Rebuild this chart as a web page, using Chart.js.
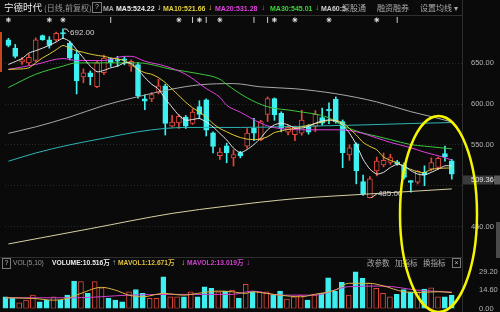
<!DOCTYPE html>
<html>
<head>
<meta charset="utf-8">
<script src="https://cdn.jsdelivr.net/npm/chart.js@4.4.0/dist/chart.umd.min.js"></script>
<style>
  body { margin: 0; background: #0a0a0a; }
  #wrap { position: relative; width: 500px; height: 312px; background: #0a0a0a; overflow: hidden;
          font-family: "Liberation Sans", "Noto Sans CJK SC", sans-serif; }
  canvas { position: absolute; left: 0; }
  .t { position: absolute; white-space: nowrap; line-height: 1; z-index: 2; }
  .b { font-size: 7px; font-weight: bold; top: 4.5px; }
  .vb { font-size: 6.7px; font-weight: bold; top: 259.5px; }
  .cn { font-family: "Noto Sans CJK SC", sans-serif; }
  .box { position: absolute; border: 1px solid #7a7a7a; color: #bbb; font-size: 7px; line-height: 8px;
         text-align: center; z-index: 2; }
  .ln { position: absolute; background: #2e2e2e; z-index: 1; }
</style>
</head>
<body>
<div id="wrap">
  <canvas id="price" width="500" height="258" style="top:0"></canvas>
  <canvas id="vol" width="500" height="55" style="top:257px"></canvas>

  <!-- frame lines -->
  <div class="ln" style="left:0;top:15px;width:462px;height:1px"></div>
  <div class="ln" style="left:0;top:257px;width:462px;height:1px"></div>
  <div class="ln" style="left:462px;top:0;width:1px;height:312px"></div>
  <div class="ln" style="left:0;top:32px;width:2px;height:40px;background:#c8461e"></div>
  <div class="ln" style="left:496px;top:222px;width:4px;height:36px;background:#4a4a4a"></div>

  <!-- price header -->
  <div class="t cn" style="left:4px;top:2.5px;font-size:9.5px;color:#ececec">宁德时代</div>
  <div class="t cn" style="left:44px;top:3.5px;font-size:8px;color:#9a9a9a">(日线,前复权)</div>
  <div class="box" style="left:92px;top:2px;width:8px;height:9px">?</div>
  <div class="t b" style="left:103px;color:#aaa">MA</div>
  <div class="t b" style="left:116px;color:#eeeeee">MA5:524.22</div>
  <div class="t b" style="left:157px;color:#eeeeee;font-size:8px;top:3.5px">↓</div>
  <div class="t b" style="left:163px;color:#e6d23a">MA10:521.66</div>
  <div class="t b" style="left:208px;color:#e6d23a;font-size:8px;top:3.5px">↓</div>
  <div class="t b" style="left:215px;color:#e040e0">MA20:531.28</div>
  <div class="t b" style="left:261px;color:#e040e0;font-size:8px;top:3.5px">↓</div>
  <div class="t b" style="left:270px;color:#3cd23c">MA30:545.01</div>
  <div class="t b" style="left:315px;color:#3cd23c;font-size:8px;top:3.5px">↓</div>
  <div class="t b" style="left:321px;color:#cfcfcf">MA60:5</div>
  <div class="t cn" style="left:342px;top:3.5px;font-size:8px;color:#aaa">深股通</div>
  <div class="t cn" style="left:377px;top:3.5px;font-size:8px;color:#aaa">融资融券</div>
  <div class="t cn" style="left:420px;top:3.5px;font-size:8px;color:#aaa">设置均线 ▾</div>

  <!-- volume header -->
  <div class="box" style="left:2px;top:258px;width:7px;height:9px">?</div>
  <div class="t" style="left:13px;top:259.5px;font-size:6.7px;color:#999">VOL(5,10)</div>
  <div class="t vb" style="left:52px;color:#eeeeee">VOLUME:10.516万</div>
  <div class="t vb" style="left:112px;color:#a8b0d0;font-size:8px;top:258.5px">↑</div>
  <div class="t vb" style="left:118px;color:#e0c040">MAVOL1:12.671万</div>
  <div class="t vb" style="left:181px;color:#e0c040;font-size:8px;top:258.5px">↓</div>
  <div class="t vb" style="left:187px;color:#d040d0">MAVOL2:13.019万</div>
  <div class="t vb" style="left:246px;color:#d040d0;font-size:8px;top:258.5px">↓</div>
  <div class="t cn" style="left:367px;top:259px;font-size:7.5px;color:#aaa">改参数</div>
  <div class="t cn" style="left:395px;top:259px;font-size:7.5px;color:#aaa">加指标</div>
  <div class="t cn" style="left:423px;top:259px;font-size:7.5px;color:#aaa">换指标</div>
  <div class="box" style="left:452px;top:258px;width:7px;height:8px">×</div>

  <!-- hand drawn mark -->
  <svg width="500" height="312" style="position:absolute;left:0;top:0;z-index:3">
    <ellipse cx="438.5" cy="214" rx="38.5" ry="98" fill="none" stroke="#f5f500" stroke-width="2.5"/>
  </svg>
</div>

<script>
// daily candles (price, 前复权)
const opens  = [678.6, 668.4, 651.6, 650.4, 653.3, 683.7, 678.6, 678.6, 687.4, 674.5,
                661.2, 633.1, 638.3, 621.1, 638.3, 655.7, 654.5, 655.2, 646.4, 648.4,
                606.2, 606.2, 614.2, 622.3, 572.9, 576.9, 584.1, 576.1, 597.0, 605.0,
                564.8, 536.8, 548.8, 533.9, 540.4, 548.4, 570.5, 556.4, 587.3, 606.6,
                588.5, 565.6, 562.4, 564.4, 572.5, 572.5, 583.4, 593.5, 605.8, 578.5,
                537.6, 551.2, 505.0, 485.3, 518.0, 525.5, 528.3, 529.1, 525.5, 506.2,
                504.2, 516.3, 520.2, 522.3, 539.2, 530.3];
const highs  = [680.5, 673.0, 657.0, 661.0, 681.0, 684.5, 682.5, 688.0, 692.0, 677.0,
                665.7, 643.0, 640.4, 652.8, 660.0, 656.4, 658.4, 658.0, 654.0, 650.8,
                611.4, 614.0, 630.4, 624.3, 586.0, 587.0, 586.0, 594.0, 604.0, 606.3,
                566.0, 546.0, 552.0, 544.0, 542.0, 570.0, 582.5, 580.0, 608.7, 607.5,
                590.5, 574.0, 573.0, 592.5, 575.0, 592.0, 595.0, 601.5, 608.7, 580.5,
                550.0, 552.4, 513.0, 511.0, 535.0, 540.0, 538.5, 531.0, 528.0, 506.2,
                518.5, 524.3, 534.0, 535.0, 548.4, 532.3];
const lows   = [670.0, 656.4, 648.4, 648.0, 652.0, 678.0, 668.4, 677.0, 681.0, 654.0,
                612.3, 626.0, 623.5, 619.9, 636.0, 646.0, 646.0, 648.0, 640.0, 607.0,
                593.0, 603.0, 612.3, 562.0, 572.0, 570.0, 570.0, 575.0, 582.0, 560.8,
                540.0, 532.0, 528.0, 524.0, 534.0, 546.0, 555.0, 555.0, 578.5, 580.0,
                566.0, 562.0, 555.0, 561.7, 563.0, 566.0, 574.0, 576.0, 576.5, 522.0,
                531.0, 502.2, 488.0, 485.0, 512.0, 523.0, 526.0, 525.0, 508.0, 492.0,
                502.0, 500.0, 518.0, 520.0, 530.0, 508.0];
const closes = [671.7, 658.4, 654.5, 657.2, 678.6, 678.6, 671.7, 686.5, 685.8, 656.4,
                628.3, 638.3, 633.1, 650.4, 656.4, 650.4, 652.4, 653.3, 652.4, 610.2,
                603.4, 611.4, 622.3, 576.1, 578.0, 585.0, 572.9, 590.1, 587.3, 568.0,
                547.9, 541.0, 540.0, 538.0, 536.4, 564.4, 564.4, 578.5, 606.6, 586.5,
                570.5, 571.3, 571.3, 580.4, 565.6, 587.3, 576.5, 591.4, 578.5, 540.3,
                546.4, 518.3, 490.1, 508.2, 530.0, 531.0, 534.3, 527.0, 510.2, 503.8,
                517.4, 513.5, 528.3, 533.5, 535.1, 514.2];

// volume, 万手
const volumes = [9.3, 8.0, 4.5, 6.6, 10.6, 5.3, 6.6, 9.3, 6.6, 10.6,
                 21.8, 21.3, 12.0, 21.3, 16.5, 8.0, 6.6, 5.3, 13.3, 15.1,
                 12.0, 8.0, 8.0, 25.2, 9.3, 9.3, 9.3, 13.3, 9.3, 17.3,
                 16.0, 13.3, 13.8, 14.6, 8.0, 19.2, 13.3, 13.3, 13.3, 10.6,
                 13.8, 7.4, 9.3, 10.6, 6.6, 10.6, 12.0, 24.4, 13.8, 20.7,
                 10.6, 29.2, 23.9, 19.9, 16.0, 12.0, 9.3, 11.2, 15.1, 13.3,
                 13.3, 15.4, 16.5, 9.3, 9.3, 10.516];

// moving averages
const ma5  = [648.4, 652.0, 655.7, 662.4, 665.3, 668.4, 672.0, 676.0, 680.5, 676.5,
              666.5, 656.4, 646.4, 639.5, 641.2, 644.3, 646.4, 650.4, 650.0, 642.4,
              632.3, 624.3, 618.3, 606.3, 596.1, 586.0, 580.1, 581.0, 582.2, 578.0,
              572.0, 564.0, 556.0, 546.0, 540.3, 544.3, 550.4, 558.4, 568.4, 574.5,
              576.5, 574.5, 570.5, 570.5, 572.5, 576.5, 579.3, 580.5, 579.3, 574.5,
              564.4, 550.4, 532.3, 520.2, 514.2, 516.3, 522.3, 526.2, 524.3, 518.3,
              514.2, 513.0, 516.3, 520.2, 524.3, 524.22];
const ma10 = [642.4, 642.7, 643.0, 644.3, 650.4, 656.4, 661.2, 666.5, 671.7, 668.4,
              665.3, 663.3, 661.2, 659.6, 658.4, 656.4, 655.2, 653.3, 648.4, 642.4,
              638.3, 636.4, 632.3, 626.3, 618.3, 610.2, 602.2, 595.4, 590.1, 584.1,
              576.1, 570.0, 566.0, 562.0, 559.0, 557.0, 556.5, 557.0, 560.0, 565.0,
              567.0, 569.0, 570.0, 572.0, 574.0, 576.0, 578.0, 580.0, 580.0, 577.0,
              570.0, 562.0, 553.0, 548.0, 544.0, 535.0, 531.0, 528.0, 523.0, 520.0,
              517.0, 516.0, 520.0, 521.0, 521.5, 521.66];
// smoother lines: [day index, value]
const ma20Pts = [[0, 642.4], [4, 648.4], [8, 655.7], [10, 653.3], [14, 653.3], [17, 658.4], [18, 658.4],
                 [20, 652.4], [23, 646.4], [26, 636.4], [29, 619.0], [31, 608.2], [32, 598.5], [34, 590.0],
                 [37, 576.5], [39, 571.0], [44, 568.4], [48, 568.4], [51, 566.0], [54, 558.4], [56, 553.0],
                 [59, 546.4], [61, 541.0], [64, 534.3], [65, 531.28]];
const ma30Pts = [[0, 620.2], [4, 636.4], [8, 646.4], [10, 650.4], [14, 650.4], [19, 650.4], [24, 642.4],
                 [28, 637.0], [31, 630.4], [32, 624.0], [35, 607.5], [38, 596.6], [42, 591.5], [47, 583.0],
                 [49, 573.5], [52, 564.4], [54, 560.5], [56, 556.4], [59, 550.3], [61, 548.4], [65, 545.01]];
const ma60Pts = [[0, 564.1], [4, 572.0], [9, 584.1], [14, 598.2], [19, 609.0], [24, 618.3], [28, 623.5],
                 [33, 625.0], [37, 621.0], [42, 618.7], [48, 612.6], [54, 602.6], [59, 590.6], [62, 584.6],
                 [65, 578.0]];
const ma120Pts = [[0, 529.9], [4, 540.0], [9, 550.0], [14, 558.1], [19, 566.0], [23, 570.1], [26, 571.3],
                  [34, 571.3], [42, 572.5], [52, 574.4], [59, 576.1], [65, 577.3]];
const ma250Pts = [[0, 428.6], [12, 447.3], [24, 466.0], [32, 474.9], [42, 484.0], [52, 489.4], [65, 496.0]];
const mavol1Pts = [[0, 8.5], [4, 8.0], [7, 6.6], [9, 8.0], [11, 12.0], [14, 16.8], [16, 14.6], [18, 10.6],
                   [20, 9.3], [23, 12.0], [26, 10.6], [28, 12.0], [31, 13.8], [33, 13.3], [35, 12.0],
                   [36, 13.3], [38, 12.0], [40, 10.6], [43, 9.3], [45, 11.2], [48, 14.6], [50, 20.0],
                   [53, 20.0], [55, 18.0], [58, 13.3], [60, 12.7], [63, 13.3], [65, 12.671]];
const mavol2Pts = [[0, 8.5], [10, 8.5], [18, 10.6], [24, 11.2], [33, 11.2], [36, 13.8], [40, 10.6],
                   [45, 10.6], [50, 17.3], [55, 17.8], [60, 14.6], [65, 13.019]];

// event marks on the top row
const starMarks = [0, 6, 8, 25, 28, 31, 39, 42, 47, 54];
const barMarks  = [15, 27, 29, 36, 38, 57];

const priceTicks = [450, 500, 550, 600, 650];
const volTicks   = [0, 14.6, 29.2];
const lastPrice  = 509.36;

const N = closes.length;
const days = closes.map((_, i) => String(i + 1));
days.push('');   // one empty slot on the right

const RED = '#e2483a', CYAN = '#3ef0f0', BG = '#0a0a0a';
const up = closes.map((c, i) => c >= opens[i]);

function fromPts(pts) {
    const arr = new Array(N).fill(null);
    pts.forEach(([i, v]) => { arr[i] = v; });
    return arr;
}

function maLine(data, color, smooth) {
    return {
        type: 'line', data: data, borderColor: color, borderWidth: 1, pointRadius: 0,
        spanGaps: true, order: 0, tension: smooth ? 0.4 : 0.2,
        cubicInterpolationMode: smooth ? 'monotone' : 'default'
    };
}

function marks(idx, level) {
    const arr = new Array(N).fill(null);
    idx.forEach(i => { arr[i] = level; });
    return arr;
}

// right axis: fixed width, no extra label padding above/below the plot
function fitRight(s) {
    s.width = 38;
    s.paddingTop = 0;
    s.paddingBottom = 0;
}

Chart.defaults.font.family = '"Liberation Sans", sans-serif';

// 692.00 / 485.00 labels and last price box
const priceExtras = {
    id: 'priceExtras',
    afterDatasetsDraw(chart) {
        const { ctx, scales: { x, y } } = chart;
        const hi = highs.indexOf(Math.max(...highs));
        const lo = lows.indexOf(Math.min(...lows));
        ctx.save();
        ctx.strokeStyle = '#d6d6d6';
        ctx.fillStyle = '#d6d6d6';
        ctx.lineWidth = 1;
        ctx.font = '8px "Liberation Sans"';
        ctx.textBaseline = 'middle';

        let px = x.getPixelForValue(hi), py = y.getPixelForValue(highs[hi]);
        ctx.beginPath();
        ctx.moveTo(px + 1, py);
        ctx.quadraticCurveTo(px + 4, py - 1, px + 6, py + 3);
        ctx.stroke();
        ctx.fillText(highs[hi].toFixed(2), px + 7, py + 4);

        px = x.getPixelForValue(lo); py = y.getPixelForValue(lows[lo]);
        ctx.beginPath();
        ctx.moveTo(px + 1, py);
        ctx.lineTo(px + 7, py - 4);
        ctx.stroke();
        ctx.fillText(lows[lo].toFixed(2), px + 8, py - 4);
        ctx.restore();
    },
    afterDraw(chart) {
        const { ctx, chartArea, scales: { y } } = chart;
        const py = Math.round(y.getPixelForValue(lastPrice)) + 2;
        ctx.save();
        ctx.fillStyle = '#3a3a3a';
        ctx.fillRect(chartArea.right + 1, py - 4.5, 30, 9);
        ctx.fillStyle = '#5a5a5a';
        ctx.fillRect(chartArea.right + 32, py - 4.5, 6, 9);
        ctx.fillStyle = '#e4e4e4';
        ctx.font = '7.5px "Liberation Sans"';
        ctx.textBaseline = 'middle';
        ctx.fillText(lastPrice.toFixed(2), chartArea.right + 9, py);
        ctx.restore();
    }
};

new Chart(document.getElementById('price'), {
    type: 'bar',
    data: {
        labels: days,
        datasets: [
            {   // marks row
                type: 'line', data: marks(starMarks, 703), showLine: false, pointStyle: 'star',
                pointRadius: 2.5, borderColor: '#e0e0e0', borderWidth: 1, order: 0
            },
            {
                type: 'line', data: marks(barMarks, 703), showLine: false, pointStyle: 'line',
                rotation: 90, pointRadius: 3, borderColor: '#d0d0d0', borderWidth: 1, order: 0
            },
            maLine(ma5, '#e6e6e6', false),
            maLine(ma10, '#e6d23a', false),
            maLine(fromPts(ma20Pts), '#e040e0', true),
            maLine(fromPts(ma30Pts), '#3cc83c', true),
            maLine(fromPts(ma60Pts), '#a8a8a8', true),
            maLine(fromPts(ma120Pts), '#2eb4b4', true),
            maLine(fromPts(ma250Pts), '#d8d0a4', true),
            {   // candle bodies
                data: opens.map((o, i) => [o, closes[i]]),
                backgroundColor: up.map(u => u ? BG : CYAN),
                borderColor: up.map(u => u ? RED : CYAN),
                borderWidth: 1, borderSkipped: false, barThickness: 5,
                minBarLength: 1, grouped: false, order: 1
            },
            {   // wicks
                data: lows.map((l, i) => [l, highs[i]]),
                backgroundColor: up.map(u => u ? RED : CYAN),
                borderWidth: 0, barThickness: 1, grouped: false, order: 2
            }
        ]
    },
    options: {
        responsive: false,
        animation: false,
        events: [],
        layout: { padding: { top: 16, left: 2, right: 0, bottom: 1 } },
        plugins: { legend: { display: false }, tooltip: { enabled: false } },
        scales: {
            x: { display: false, offset: true, grid: { display: false } },
            y: {
                position: 'right', min: 417.5, max: 707.8,
                afterFit: fitRight,
                afterBuildTicks: s => { s.ticks = priceTicks.map(v => ({ value: v })); },
                grid: { color: '#2a2a2a', drawTicks: false },
                border: { display: false, dash: [1, 2] },
                ticks: {
                    color: '#b4b4b4', font: { size: 7.5 }, padding: 9,
                    // the last price box sits over the nearest label
                    callback: v => Math.abs(v - lastPrice) < 12 ? '' : v.toFixed(2)
                }
            }
        }
    },
    plugins: [priceExtras]
});

new Chart(document.getElementById('vol'), {
    type: 'bar',
    data: {
        labels: days,
        datasets: [
            maLine(fromPts(mavol1Pts), '#dcb444', true),
            maLine(fromPts(mavol2Pts), '#d040d0', true),
            {
                data: volumes,
                backgroundColor: up.map(u => u ? BG : CYAN),
                borderColor: up.map(u => u ? RED : CYAN),
                borderWidth: 1, borderSkipped: false, barThickness: 5, order: 1
            }
        ]
    },
    options: {
        responsive: false,
        animation: false,
        events: [],
        layout: { padding: { top: 2, left: 2, right: 0, bottom: 3.5 } },
        plugins: { legend: { display: false }, tooltip: { enabled: false } },
        scales: {
            x: { display: false, offset: true, grid: { display: false } },
            y: {
                position: 'right', min: 0, max: 39.3,
                afterFit: fitRight,
                afterBuildTicks: s => { s.ticks = volTicks.map(v => ({ value: v })); },
                grid: { display: false },
                border: { display: false },
                ticks: { color: '#b4b4b4', font: { size: 7.5 }, padding: 9, callback: v => v.toFixed(2) }
            }
        }
    }
});
</script>
</body>
</html>
